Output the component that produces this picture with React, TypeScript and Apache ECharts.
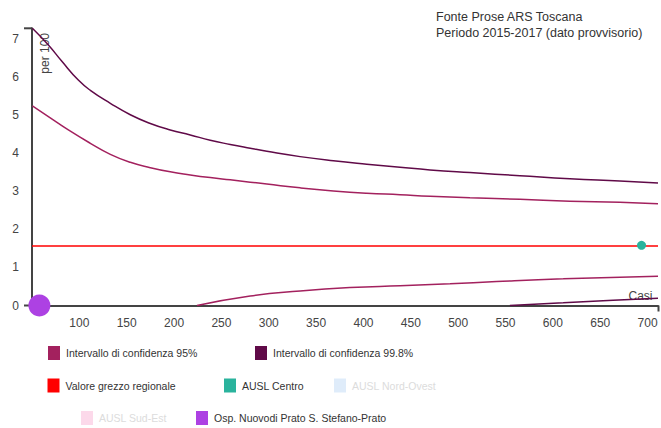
import React, { useEffect, useRef } from "react";
import * as echarts from "echarts";

const X_MIN = 50;
const X_MAX = 711;
const Y_MAX = 7.28;

const titleLines = ["Fonte Prose ARS Toscana", "Periodo 2015-2017 (dato provvisorio)"];

// [casi, valore per 100]
const upper998: [number, number][] = [
  [50.4, 7.28], [67.3, 6.84], [81.3, 6.42], [98.9, 5.92], [111.6, 5.65], [132.7, 5.31], [153.8, 5.01],
  [174.9, 4.78], [196.0, 4.61], [217.1, 4.48], [238.2, 4.34], [259.3, 4.23], [280.4, 4.13],
  [298.0, 4.05], [333.1, 3.91], [368.2, 3.8], [403.5, 3.71], [438.6, 3.63], [470.3, 3.56],
  [512.4, 3.49], [565.2, 3.41], [617.9, 3.33], [670.7, 3.27], [711, 3.22],
];
const upper95: [number, number][] = [
  [50.4, 5.24], [67.3, 4.96], [88.4, 4.61], [111.6, 4.26], [132.7, 3.97], [153.8, 3.76],
  [174.9, 3.62], [196.0, 3.51], [217.1, 3.43], [238.2, 3.36], [259.3, 3.3], [280.4, 3.24],
  [298.0, 3.19], [333.1, 3.09], [368.2, 3.01], [403.5, 2.95], [438.6, 2.91], [470.3, 2.87],
  [512.4, 2.83], [565.2, 2.79], [617.9, 2.74], [670.7, 2.71], [711, 2.67],
];
const lower95: [number, number][] = [
  [224.2, 0], [280.4, 0.25], [333.1, 0.38], [385.9, 0.47], [438.6, 0.52], [491.4, 0.57],
  [540.6, 0.63], [610.9, 0.7], [711, 0.77],
];
const lower998: [number, number][] = [
  [554.6, 0], [610.9, 0.07], [663.6, 0.14], [711, 0.19],
];
const regionalValue = 1.56;
const regional: [number, number][] = [[X_MIN, regionalValue], [X_MAX, regionalValue]];
const auslCentro: [number, number][] = [[693.6, 1.58]];
const auslNordOvest: [number, number][] = [];
const auslSudEst: [number, number][] = [];
const ospPrato: [number, number][] = [[57.8, 0]];

const S95 = "Intervallo di confidenza 95%";
const S998 = "Intervallo di confidenza 99.8%";
const SREG = "Valore grezzo regionale";
const SCEN = "AUSL Centro";
const SNO = "AUSL Nord-Ovest";
const SSE = "AUSL Sud-Est";
const SPRA = "Osp. Nuovodi Prato S. Stefano-Prato";

const C95 = "#a3215e";
const C998 = "#600a48";
const CREG = "#ff0000";
const CCEN = "#2ab39d";
const CNO = "#dfecfa";
const CSE = "#fcd9ea";
const CPRA = "#ad41e3";

const FONT = '"Liberation Sans", Arial, sans-serif';

const legendPlacement: { name: string; left: number; top: number; faded?: boolean }[] = [
  { name: S95, left: 48, top: 346 },
  { name: S998, left: 255, top: 346 },
  { name: SREG, left: 47.5, top: 378.5 },
  { name: SCEN, left: 224, top: 378.5 },
  { name: SNO, left: 334, top: 378.5, faded: true },
  { name: SSE, left: 81, top: 411, faded: true },
  { name: SPRA, left: 196, top: 411 },
];

export default function App() {
  const ref = useRef<HTMLDivElement>(null);
  useEffect(() => {
    if (!ref.current) return;
    const chart = echarts.init(ref.current, null, { renderer: "svg" });
    const lineSeries = (name: string, data: [number, number][], color: string) => ({
      name,
      type: "line",
      data,
      smooth: 0.5,
      showSymbol: false,
      symbol: "none",
      lineStyle: { color, width: 1.5 },
      itemStyle: { color },
      z: 3,
    });
    const scatterSeries = (name: string, data: [number, number][], color: string, size: number) => ({
      name,
      type: "scatter",
      data,
      symbolSize: size,
      itemStyle: { color, opacity: 1 },
      clip: false,
      z: 5,
    });
    const option: any = {
      animation: false,
      textStyle: { fontFamily: FONT },
      title: {
        text: titleLines.join("\n"),
        left: 436,
        top: 9,
        padding: 0,
        textStyle: { fontSize: 12.5, fontWeight: "normal", color: "#333", lineHeight: 16, fontFamily: FONT },
      },
      legend: legendPlacement.map((l) => ({
        data: [
          l.faded
            ? { name: l.name, textStyle: { color: "#dcdcdc" } }
            : { name: l.name },
        ],
        left: l.left,
        top: l.top,
        padding: 0,
        icon: "rect",
        itemWidth: 12,
        itemHeight: 14,
        itemStyle: { borderWidth: 0, opacity: 1 },
        selectedMode: false,
        textStyle: { fontSize: 10.5, color: "#333", fontFamily: FONT, padding: [1, 0, 0, 1] },
      })),
      grid: { left: 32, right: 2.5, top: 28.3, bottom: 122.5 },
      xAxis: {
        type: "value",
        min: X_MIN,
        max: X_MAX,
        interval: 50,
        splitLine: { show: false },
        axisTick: { show: false },
        axisLine: { lineStyle: { color: "#444", width: 2 } },
        axisLabel: {
          color: "#444",
          fontSize: 12,
          margin: 11,
          formatter: (v: number) => (v === X_MIN || v % 50 !== 0 ? "" : String(v)),
        },
      },
      yAxis: {
        type: "value",
        min: 0,
        max: Y_MAX,
        interval: 1,
        splitLine: { show: false },
        axisTick: { show: false },
        axisLine: { show: true, lineStyle: { color: "#444", width: 2 } },
        axisLabel: {
          color: "#444",
          fontSize: 12,
          margin: 13,
          formatter: (v: number) => (Number.isInteger(v) ? String(v) : ""),
        },
      },
      graphic: [
        { type: "line", shape: { x1: 24, y1: 28.3, x2: 32, y2: 28.3 }, style: { stroke: "#444", lineWidth: 2 } },
        { type: "line", shape: { x1: 24, y1: 305.5, x2: 32, y2: 305.5 }, style: { stroke: "#444", lineWidth: 2 } },
        { type: "line", shape: { x1: 658.5, y1: 305.5, x2: 658.5, y2: 311.5 }, style: { stroke: "#444", lineWidth: 2 } },
        {
          type: "text",
          x: 45,
          y: 33,
          rotation: Math.PI / 2,
          style: { text: "per 100", fill: "#444", font: `12px ${FONT}`, textAlign: "right", textVerticalAlign: "middle" },
        },
        {
          type: "text",
          x: 652.5,
          y: 296,
          style: { text: "Casi", fill: "#444", font: `12px ${FONT}`, textAlign: "right", textVerticalAlign: "middle" },
        },
      ],
      series: [
        lineSeries(S95, upper95, C95),
        lineSeries(S95, lower95, C95),
        lineSeries(S998, upper998, C998),
        lineSeries(S998, lower998, C998),
        {
          name: SREG,
          type: "line",
          data: regional,
          showSymbol: false,
          symbol: "none",
          lineStyle: { color: CREG, width: 1.5 },
          itemStyle: { color: CREG },
          z: 2,
        },
        scatterSeries(SCEN, auslCentro, CCEN, 9),
        scatterSeries(SNO, auslNordOvest, CNO, 9),
        scatterSeries(SSE, auslSudEst, CSE, 9),
        scatterSeries(SPRA, ospPrato, CPRA, 22),
      ],
    };
    chart.setOption(option);
    return () => chart.dispose();
  }, []);
  return (
    <div
      ref={ref}
      style={{ position: "absolute", left: 0, top: 0, width: 661, height: 428, background: "#fff" }}
    />
  );
}
